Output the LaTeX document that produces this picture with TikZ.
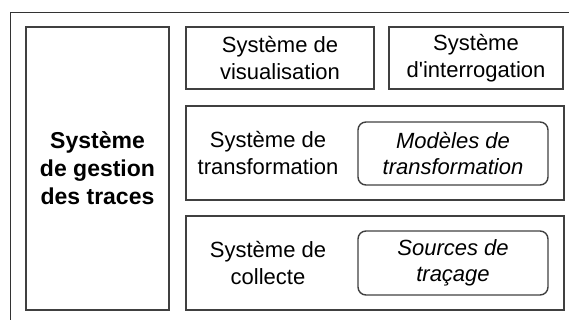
\documentclass[tikz,border=0pt]{standalone}
\usepackage{fontspec}
\setmainfont{Liberation Sans}
\usepackage{tikz}
\usetikzlibrary{positioning}

\begin{document}
\begin{tikzpicture}[
  x=1pt, y=1pt,
  box/.style={draw=black!75, line width=1.4pt, align=center, inner sep=0pt,
    font=\fontsize{22}{26.5}\selectfont},
  model/.style={box, rounded corners=8pt, font=\fontsize{22}{26.5}\selectfont\itshape},
  label/.style={align=center, inner sep=0pt, font=\fontsize{22}{26.5}\selectfont}
]
\useasboundingbox (0,0) rectangle (569,320);
\clip (0,0) rectangle (569,320);

% cadre general
\draw[black!80, line width=1pt] (10,-10) rectangle (580,307.5);

\node[box, minimum width=143pt, minimum height=283pt,
  font=\fontsize{23}{28}\selectfont\bfseries] (gestion) at (97.5,151.5)
  {Système\\de gestion\\des traces};

\node[box, minimum width=188pt, minimum height=62pt] (visu) at (280,262)
  {Système de\\visualisation};
\node[box, minimum width=174pt, minimum height=62pt] (interro) at (476,262)
  {Système\\d\textquotesingle interrogation};

% transformation
\node[box, minimum width=378pt, minimum height=94pt] (transfo) at (375,167) {};
\node[label] (transfo-lbl) at (268,167) {Système de\\transformation};
\node[model, minimum width=190pt, minimum height=63pt] (modeles) at (453,166.5)
  {Modèles de\\transformation};

% collecte
\node[box, minimum width=378pt, minimum height=94pt] (collecte) at (375,57) {};
\node[label] (collecte-lbl) at (268,57) {Système de\\collecte};
\node[model, minimum width=190pt, minimum height=64pt] (sources) at (453,57)
  {Sources de\\traçage};

\end{tikzpicture}
\end{document}
